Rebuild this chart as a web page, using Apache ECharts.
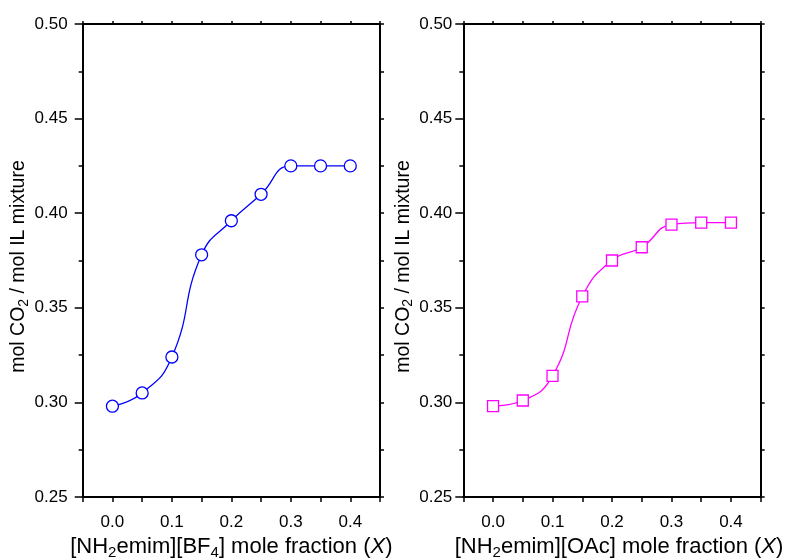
<!DOCTYPE html>
<html>
<head>
<meta charset="utf-8">
<script src="https://cdn.jsdelivr.net/npm/echarts@6/dist/echarts.min.js"></script>
<style>html,body{margin:0;padding:0;background:#fff}#main{width:785px;height:558px}</style>
</head>
<body>
<div id="main"></div>
<script>
// Data
var xValues = [0.0, 0.05, 0.10, 0.15, 0.20, 0.25, 0.30, 0.35, 0.40];
var bf4Values = [0.298, 0.305, 0.324, 0.378, 0.396, 0.410, 0.425, 0.425, 0.425];
var oacValues = [0.298, 0.301, 0.314, 0.356, 0.375, 0.382, 0.394, 0.395, 0.395];
var xTickLabels = ['0.0', '0.1', '0.2', '0.3', '0.4'];
var yTickLabels = ['0.25', '0.30', '0.35', '0.40', '0.45', '0.50'];
var xNames = ['[NH{sub|2}emim][BF{sub|4}] mole fraction ({it|X})', '[NH{sub|2}emim][OAc] mole fraction ({it|X})'];
var yName = 'mol CO{sub|2} / mol IL mixture';

var FONT = 'Arial, "Liberation Sans", sans-serif';
var chart = echarts.init(document.getElementById('main'), null, {renderer: 'canvas'});

function pair(arr) { return xValues.map(function (x, i) { return [x, arr[i]]; }); }

function xLabel(v) {
  var k = Math.round(v * 100);
  if (k < 0 || k % 10 !== 0) return '';
  return xTickLabels[k / 10] || '';
}
function yLabel(v) {
  var k = Math.round(v * 100);
  var idx = (k - 25) / 5;
  return yTickLabels[idx] || '';
}

var richName = {
  sub: {fontSize: 15, fontFamily: FONT, color: '#000', verticalAlign: 'bottom', lineHeight: 26},
  it: {fontSize: 22, fontFamily: FONT, color: '#000', fontStyle: 'italic'}
};
var axisLineStyle = {color: '#000', width: 2};

var grids = [
  {left: 82.7, right: 405, top: 24, bottom: 61, containLabel: false, outerBoundsMode: 'none'},
  {left: 463.3, right: 24.3, top: 24, bottom: 61, containLabel: false, outerBoundsMode: 'none'}
];

var xAxes = [], yAxes = [];
[0, 1].forEach(function (g) {
  xAxes.push({
    type: 'value', gridIndex: g, position: 'bottom', min: -0.05, max: 0.45, interval: 0.05,
    name: xNames[g], nameLocation: 'middle', nameGap: 36,
    nameTextStyle: {fontSize: 22, fontFamily: FONT, color: '#000', rich: richName,
      padding: g === 0 ? [0, 0, 0, 0] : [0, 0, 0, 14]},
    axisLine: {onZero: false, lineStyle: axisLineStyle},
    axisTick: {inside: false, length: 5, lineStyle: {color: '#000', width: 1.5}},
    axisLabel: {formatter: xLabel, fontSize: 17, fontFamily: FONT, color: '#000', margin: 17},
    splitLine: {show: false}
  });
  xAxes.push({
    type: 'value', gridIndex: g, position: 'top', min: -0.05, max: 0.45, interval: 0.05,
    axisLine: {onZero: false, lineStyle: axisLineStyle},
    axisTick: {inside: false, length: 3, lineStyle: {color: '#000', width: 1.5}},
    axisLabel: {show: false}, splitLine: {show: false}
  });
  yAxes.push({
    type: 'value', gridIndex: g, position: 'left', min: 0.25, max: 0.50, interval: 0.05,
    name: yName, nameLocation: 'middle', nameGap: 46, nameRotate: 90,
    nameTextStyle: {fontSize: 19.5, fontFamily: FONT, color: '#000', padding: [0, 12, 0, 0], rich: {
      sub: {fontSize: 14, fontFamily: FONT, color: '#000', verticalAlign: 'bottom', lineHeight: 24}
    }},
    axisLine: {onZero: false, lineStyle: axisLineStyle},
    axisTick: {inside: false, length: 8, lineStyle: {color: '#000', width: 1.5}},
    minorTick: {show: true, splitNumber: 2, length: 4, lineStyle: {color: '#000', width: 1.5}},
    axisLabel: {formatter: yLabel, fontSize: 17, fontFamily: FONT, color: '#000', margin: g === 0 ? 15 : 11},
    splitLine: {show: false}, minorSplitLine: {show: false}
  });
  yAxes.push({
    type: 'value', gridIndex: g, position: 'right', min: 0.25, max: 0.50, interval: 0.05,
    axisLine: {onZero: false, lineStyle: axisLineStyle},
    axisTick: {inside: false, length: 4, lineStyle: {color: '#000', width: 1.5}},
    minorTick: {show: true, splitNumber: 2, length: 4, lineStyle: {color: '#000', width: 1.5}},
    axisLabel: {show: false}, splitLine: {show: false}, minorSplitLine: {show: false}
  });
});

chart.setOption({
  animation: false,
  backgroundColor: '#fff',
  grid: grids,
  xAxis: xAxes,
  yAxis: yAxes,
  series: [
    {
      type: 'line', xAxisIndex: 0, yAxisIndex: 0, data: pair(bf4Values),
      smooth: 0.5,
      symbol: 'circle', symbolSize: 12,
      lineStyle: {color: '#0000FF', width: 1.3},
      itemStyle: {color: '#fff', borderColor: '#0000FF', borderWidth: 1.3}
    },
    {
      type: 'line', xAxisIndex: 2, yAxisIndex: 2, data: pair(oacValues),
      smooth: 0.5,
      symbol: 'rect', symbolSize: 11,
      lineStyle: {color: '#FF00FF', width: 1.3},
      itemStyle: {color: '#fff', borderColor: '#FF00FF', borderWidth: 1.3}
    }
  ]
});
</script>
</body>
</html>
